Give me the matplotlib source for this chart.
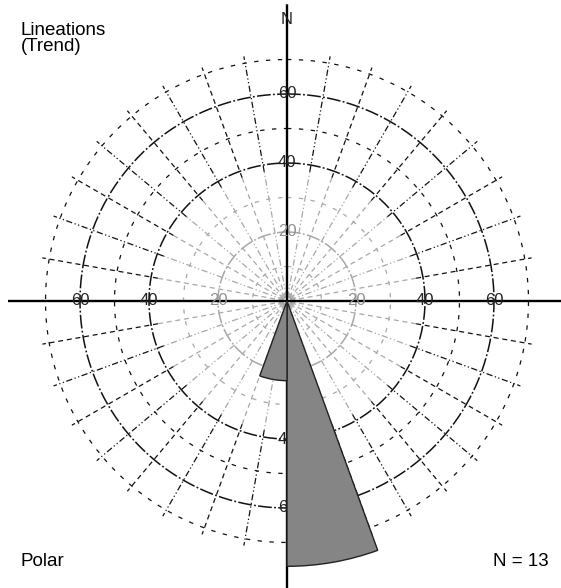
import numpy as np
import matplotlib
matplotlib.use("Agg")
import matplotlib.pyplot as plt

plt.rcParams['font.family'] = ['Liberation Sans', 'DejaVu Sans']

# Data: rose diagram of lineation trends (percent of N=13)
bin_start_deg = [160, 180]
bin_width_deg = [20, 20]
bin_percent = [76.9, 23.1]
ring_values = [10, 20, 30, 40, 50, 60, 70]
ring_labels = [20, 40, 60]
n_total = 13

W, H = 561, 588
fig = plt.figure(figsize=(W / 100, H / 100), dpi=100)
cx, cy = 287, 301          # centre in pixels (from top)
rmax = 86
pxu = 3.45                 # pixels per unit
rad_px = rmax * pxu
ax = fig.add_axes([(cx - rad_px) / W, (H - cy - rad_px) / H, 2 * rad_px / W, 2 * rad_px / H],
                  projection='polar')
ax.set_theta_zero_location('N')
ax.set_theta_direction(-1)
ax.set_ylim(0, rmax)
ax.set_axis_off()

theta = np.linspace(0, 2 * np.pi, 721)
inner_col = '#a8a8a8'
outer_col = '#111111'

# rings
for r in ring_values:
    major = r in ring_labels
    dashes = (9, 1.5, 1.2, 1.5) if major else (3.5, 6)
    col = inner_col if r <= 30 else outer_col
    lw = 1.1 if major else 0.9
    ax.plot(theta, np.full_like(theta, r), color=col, lw=lw, dashes=dashes, zorder=2)

# spokes every 10 degrees
for deg in range(10, 360, 10):
    if deg % 90 == 0:
        continue
    th = np.deg2rad(deg)
    dashes = (5, 2, 1, 2, 1, 2) if (deg // 10) % 2 else (4, 3)
    ax.plot([th, th], [1, 38], color=inner_col, lw=0.9, dashes=dashes, zorder=2)
    ax.plot([th, th], [38, 72], color=outer_col, lw=0.9, dashes=dashes, zorder=2)

# main axes lines
for deg, length in [(0, 86), (90, 79.5), (180, 84), (270, 81)]:
    th = np.deg2rad(deg)
    ax.plot([th, th], [0, length], color='black', lw=1.7, zorder=3, solid_capstyle='butt')

# ring labels on the four axes
for deg in [0, 90, 180, 270]:
    for r in ring_labels:
        col = '#909090' if r == 20 else '#222222'
        ax.text(np.deg2rad(deg), r, str(r), ha='center', va='center', fontsize=12,
                color=col, zorder=4)
ax.text(0, 81.5, 'N', ha='center', va='center', fontsize=12, color='#222222', zorder=4)

# wedges
ax.bar(np.deg2rad(np.array(bin_start_deg) + np.array(bin_width_deg) / 2), bin_percent,
       width=np.deg2rad(bin_width_deg), bottom=0, color='#858585', edgecolor='#222222',
       linewidth=1.0, zorder=5)

fig.text(21 / W, 1 - 22 / H, 'Lineations\n(Trend)', ha='left', va='top', fontsize=13.5,
         linespacing=0.9)
fig.text(21 / W, 1 - 566 / H, 'Polar', ha='left', va='baseline', fontsize=13.5)
fig.text(549 / W, 1 - 566 / H, 'N = %d' % n_total, ha='right', va='baseline', fontsize=13.5)

fig.savefig('out.png', dpi=100)
